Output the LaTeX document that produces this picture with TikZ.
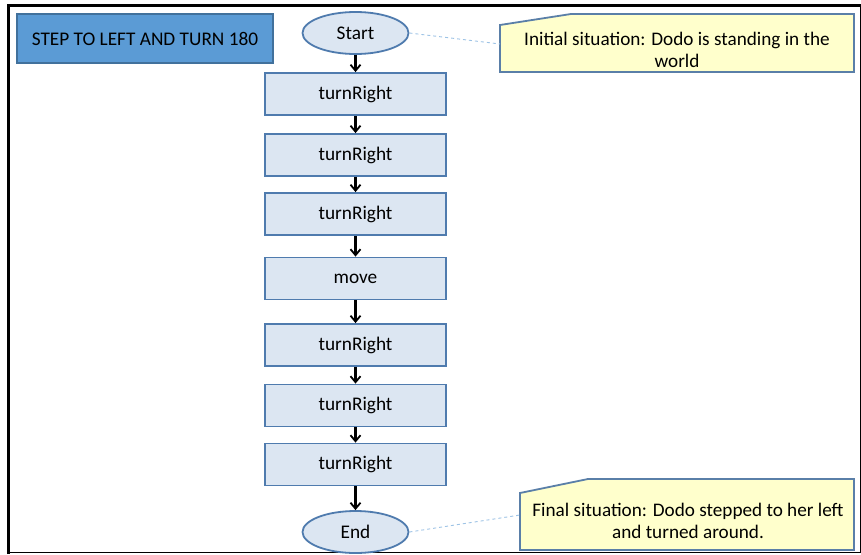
\documentclass[tikz,border=0pt]{standalone}
\usepackage{fontspec}
\setmainfont{Carlito}
\usetikzlibrary{shapes.geometric,arrows.meta}
\definecolor{titlefill}{HTML}{5B9BD5}
\definecolor{titledraw}{HTML}{41719C}
\definecolor{procfill}{HTML}{DCE6F2}
\definecolor{procdraw}{HTML}{4F7BAE}
\definecolor{notefill}{HTML}{FFFFCC}
\definecolor{notedraw}{HTML}{5A7FA8}
\definecolor{dashcol}{HTML}{9DC3E6}
\tikzset{
  procbox/.style={draw=procdraw, fill=procfill, line width=1.8pt, minimum width=181pt, minimum height=42pt, inner sep=0pt, font=\fontsize{19.3}{22}\selectfont},
  termnode/.style={ellipse, draw=procdraw, fill=procfill, line width=1.8pt, minimum width=106pt, minimum height=42pt, inner sep=0pt, font=\fontsize{19.3}{22}\selectfont},
  flow/.style={-{Straight Barb[length=6pt,width=10pt,line width=1.8pt]}, line width=2.2pt, black},
  notelink/.style={draw=dashcol, dashed, line width=0.9pt},
  notepoly/.style={draw=notedraw, fill=notefill, line width=1.8pt},
  notetext/.style={align=center, font=\fontsize{19.2}{22}\selectfont, inner sep=0pt}
}
\begin{document}
\begin{tikzpicture}[x=1pt,y=-1pt]
\useasboundingbox (0,0) rectangle (861,554);
\fill[white] (0,0) rectangle (861,554);
% frame
\draw[line width=3pt] (8,554) -- (8,5.5) -- (861,5.5);
\draw[line width=1.2pt] (8,552.5) -- (861,552.5);
\draw[line width=1pt] (860,5.5) -- (860,553);
% title
\node[draw=titledraw, fill=titlefill, line width=1.8pt, minimum width=256pt, minimum height=49pt, inner sep=0pt, font=\fontsize{19.3}{22}\selectfont] (title) at (145,38.5) {STEP TO LEFT AND TURN 180};
% flow
\node[termnode] (start) at (355.5,33) {Start};
\node[procbox] (b1) at (355.5,94) {turnRight};
\node[procbox] (b2) at (355.5,155) {turnRight};
\node[procbox] (b3) at (355.5,214) {turnRight};
\node[procbox] (b4) at (355.5,278.5) {move};
\node[procbox] (b5) at (355.5,345) {turnRight};
\node[procbox] (b6) at (355.5,405.5) {turnRight};
\node[procbox] (b7) at (355.5,464.5) {turnRight};
\node[termnode] (end) at (355.5,532) {End};
\draw[flow] (start) -- (b1);
\draw[flow] (b1) -- (b2);
\draw[flow] (b2) -- (b3);
\draw[flow] (b3) -- (b4);
\draw[flow] (b4) -- (b5);
\draw[flow] (b5) -- (b6);
\draw[flow] (b6) -- (b7);
\draw[flow] (b7) -- (end);
% callouts
\draw[notepoly] (500,25) -- (571,14) -- (854,14) -- (854,72) -- (500,72) -- cycle;
\coordinate (n1) at (500,44);
\node[notetext] (note1) at (677,50) {Initial situation: Dodo is standing in the\\world};
\draw[notepoly] (520,493) -- (588,479) -- (854,479) -- (854,550) -- (520,550) -- cycle;
\coordinate (n2) at (520,515);
\node[notetext] (note2) at (688,521) {Final situation: Dodo stepped to her left\\and turned around.};
\draw[notelink] (start.east) -- (n1);
\draw[notelink] (end.east) -- (n2);
\end{tikzpicture}
\end{document}
